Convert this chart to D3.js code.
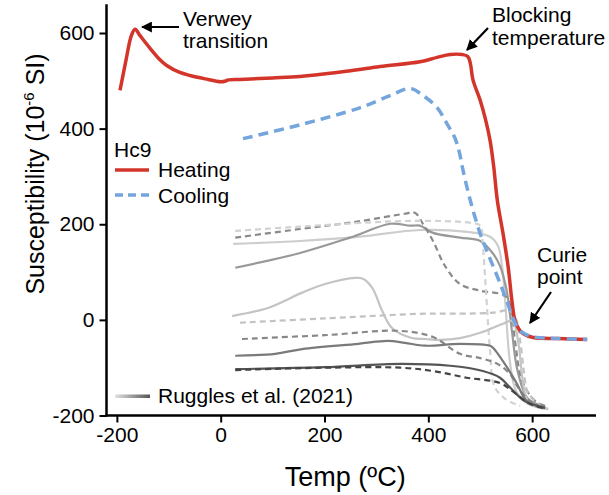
<!DOCTYPE html>
<html>
<head>
<meta charset="utf-8">
<script src="https://cdn.jsdelivr.net/npm/d3@7"></script>
<style>
  body { margin: 0; background: #fff; }
  svg { font-family: "Liberation Sans", Arial, sans-serif; }
</style>
</head>
<body>
<div id="graph"></div>
<script>
// Hc9 heating / cooling, [temp, susceptibility]
var heating = [[-194,480],[-183,540],[-172,595],[-165,608],[-155,594],[-136,568],[-117,544],[-104,532],[-80,518],[-59,511],[-30,504],[0,498],[8,499],[15,502],[37,503],[100,506],[153,509],[250,521],[307,530],[384,540],[417,549],[442,555],[465,555],[476,551],[481,536],[486,502],[500,459],[510,420],[519,375],[526,320],[533,249],[544,180],[554,109],[561,40],[567,-2],[575,-20],[583,-29],[602,-37],[650,-39],[706,-41]]
var cooling = [[43,379],[153,408],[269,444],[326,469],[365,484],[390,469],[417,444],[436,410],[451,381],[459,354],[467,312],[481,249],[500,180],[515,138],[534,88],[551,40],[567,-6],[580,-25],[600,-35],[650,-39],[706,-41]]

// Ruggles et al. (2021) curves
var rugA = [[24,159],[153,165],[268,174],[384,188],[475,184],[519,174],[534,155],[542,113],[548,40],[557,-86],[569,-149],[592,-176],[631,-186]]
var rugB = [[28,109],[153,140],[249,172],[327,201],[365,197],[384,197],[409,182],[461,172],[500,165],[525,138],[538,113],[551,61],[561,-23],[572,-107],[592,-165],[625,-182]]
var rugC = [[28,172],[153,190],[260,205],[355,222],[374,224],[390,200],[409,165],[432,113],[461,75],[500,61],[548,50],[560,20],[567,-44],[581,-128],[606,-170],[631,-182]]
var rugD = [[28,186],[153,195],[365,207],[481,203],[500,197],[505,155],[511,61],[519,-65],[527,-138],[548,-165],[577,-180]]
var rugE = [[22,8],[91,25],[157,57],[201,75],[259,88],[274,86],[292,67],[311,19],[330,-17],[368,-38],[394,-40],[423,-42],[461,-38],[500,-27],[544,-8],[561,-2],[567,-13],[575,-60],[581,-120],[590,-165],[610,-182],[631,-186]]
var rugF = [[37,-6],[200,3],[394,13],[467,13],[525,15],[557,19],[569,2],[577,-44],[584,-107],[592,-153],[616,-178]]
var rugG = [[41,-40],[200,-32],[346,-23],[409,-36],[461,-71],[500,-80],[533,-92],[557,-113],[575,-145],[596,-170],[625,-184]]
var rugH = [[28,-75],[105,-71],[157,-61],[265,-50],[322,-44],[355,-48],[394,-54],[461,-50],[519,-54],[525,-59],[552,-100],[571,-134],[590,-170],[625,-184]]
var rugI = [[28,-103],[200,-99],[346,-92],[442,-96],[505,-107],[538,-121],[558,-142],[586,-170],[625,-184]]
var rugJ = [[28,-105],[200,-100],[346,-100],[409,-107],[474,-121],[538,-132],[567,-153],[596,-176],[625,-186]]

var ruggles = [rugA, rugB, rugC, rugD, rugE, rugF, rugG, rugH, rugI, rugJ]

var xTicks = [-200, 0, 200, 400, 600]
var yTicks = [-200, 0, 200, 400, 600]

// look of each Ruggles line (same order as above)
var rugStyle = [
  { c: "#cdcdcd", dash: null },
  { c: "#999999", dash: null },
  { c: "#8a8a8a", dash: "6,4" },
  { c: "#d2d2d2", dash: "6,4" },
  { c: "#c4c4c4", dash: null },
  { c: "#c2c2c2", dash: "6,4" },
  { c: "#888888", dash: "6,4" },
  { c: "#7a7a7a", dash: null },
  { c: "#555555", dash: null },
  { c: "#444444", dash: "6,4" }
]

const width = 609, height = 495

const svg = d3.select("#graph").append("svg")
    .attr("width", width)
    .attr("height", height)

const x = d3.scaleLinear().domain([-220, 723]).range([106.5, 596])
const y = d3.scaleLinear().domain([-200, 600]).range([415.5, 33])

const defs = svg.append("defs")
defs.append("marker")
    .attr("id", "arrow")
    .attr("viewBox", "0 0 10 10")
    .attr("refX", 9).attr("refY", 5)
    .attr("markerWidth", 5).attr("markerHeight", 5)
    .attr("markerUnits", "strokeWidth")
    .attr("orient", "auto")
  .append("path")
    .attr("d", "M0,0 L10,5 L0,10 z")
    .attr("fill", "#000")

const grad = defs.append("linearGradient").attr("id", "rugGrad")
grad.append("stop").attr("offset", "0%").attr("stop-color", "#e2e2e2")
grad.append("stop").attr("offset", "100%").attr("stop-color", "#555")

const line = d3.line().x(d => x(d[0])).y(d => y(d[1])).curve(d3.curveCatmullRom.alpha(0.5))

svg.append("g")
    .selectAll("path")
    .data(ruggles)
    .enter().append("path")
        .attr("fill", "none")
        .attr("stroke", (d, i) => rugStyle[i].c)
        .attr("stroke-width", 2.2)
        .attr("stroke-dasharray", (d, i) => rugStyle[i].dash)
        .attr("d", line)

svg.append("path")
    .datum(heating)
    .attr("fill", "none")
    .attr("stroke", "#d3352b")
    .attr("stroke-width", 3.5)
    .attr("d", line)

svg.append("path")
    .datum(cooling)
    .attr("fill", "none")
    .attr("stroke", "#74a5dd")
    .attr("stroke-width", 3.5)
    .attr("stroke-dasharray", "10,6")
    .attr("d", line)

// axes
const xAxis = svg.append("g")
    .attr("transform", `translate(0, ${y(-200)})`)
    .call(d3.axisBottom(x).tickValues(xTicks).tickSizeOuter(0).tickSize(7).tickPadding(5))
const yAxis = svg.append("g")
    .attr("transform", `translate(${x(-220)}, 0)`)
    .call(d3.axisLeft(y).tickValues(yTicks).tickSizeOuter(0).tickSize(7).tickPadding(5))

svg.selectAll(".domain").attr("stroke-width", 2.5)
svg.selectAll(".tick line").attr("stroke-width", 2)
svg.selectAll(".tick text").attr("font-size", 21).attr("fill", "#000")
yAxis.select(".domain").attr("d", `M0,${y(-200) + 1}V${y(660)}`)
xAxis.select(".domain").attr("d", `M${x(-220) - 1},0H${x(723)}`)
xAxis.selectAll(".tick text").text(d => d < 0 ? "-" + Math.abs(d) : d)
yAxis.selectAll(".tick text").text(d => d < 0 ? "-" + Math.abs(d) : d)

svg.append("text")
    .attr("x", x(240)).attr("y", 486)
    .attr("text-anchor", "middle")
    .attr("font-size", 27)
    .text("Temp (ºC)")

const yTitle = svg.append("text")
    .attr("transform", `translate(44, 174) rotate(-90)`)
    .attr("text-anchor", "middle")
    .attr("font-size", 25)
yTitle.append("tspan").text("Susceptibility (10")
yTitle.append("tspan").attr("font-size", 15).attr("dy", -10).text("-6")
yTitle.append("tspan").attr("dy", 10).text(" SI)")

// legend
svg.append("text").attr("x", 114).attr("y", 157).attr("font-size", 21).text("Hc9")
svg.append("line").attr("x1", 115).attr("x2", 149).attr("y1", 170).attr("y2", 170)
    .attr("stroke", "#d3352b").attr("stroke-width", 3.5)
svg.append("text").attr("x", 158).attr("y", 177).attr("font-size", 21).text("Heating")
svg.append("line").attr("x1", 115).attr("x2", 149).attr("y1", 195).attr("y2", 195)
    .attr("stroke", "#74a5dd").attr("stroke-width", 3.5).attr("stroke-dasharray", "8,5")
svg.append("text").attr("x", 158).attr("y", 203).attr("font-size", 21).text("Cooling")

svg.append("rect").attr("x", 115).attr("y", 394.5).attr("width", 35).attr("height", 3.5)
    .attr("fill", "url(#rugGrad)")
svg.append("text").attr("x", 158).attr("y", 403).attr("font-size", 21).text("Ruggles et al. (2021)")

// annotations
function note(lines, tx, ty, gap, from, to) {
    const t = svg.append("text").attr("font-size", 21)
    lines.forEach((s, i) => t.append("tspan").attr("x", tx).attr("y", ty + i * gap).text(s))
    svg.append("line")
        .attr("x1", from[0]).attr("y1", from[1])
        .attr("x2", to[0]).attr("y2", to[1])
        .attr("stroke", "#000").attr("stroke-width", 2.2)
        .attr("marker-end", "url(#arrow)")
}
note(["Verwey", "transition"], 183, 26, 22, [179, 27], [142, 27])
note(["Blocking", "temperature"], 492, 22, 23, [488, 28], [467, 50])
note(["Curie", "point"], 537, 262, 22, [551, 292], [530, 323])
</script>
</body>
</html>
